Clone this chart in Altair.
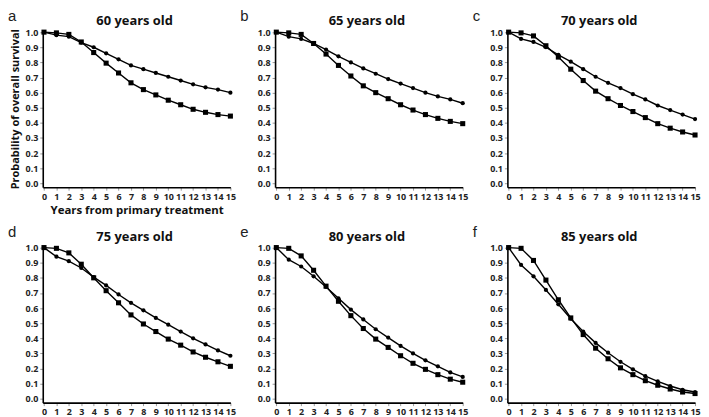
import altair as alt
import pandas as pd

years = list(range(16))
panel_ids = ["a", "b", "c", "d", "e", "f"]
panel_titles = ["60 years old", "65 years old", "70 years old",
                "75 years old", "80 years old", "85 years old"]

# circle-marker series
circle_a = [1.0, 0.98, 0.97, 0.93, 0.90, 0.86, 0.82, 0.78, 0.755, 0.73, 0.705, 0.68, 0.655, 0.635, 0.62, 0.60]
circle_b = [1.0, 0.97, 0.955, 0.925, 0.885, 0.84, 0.80, 0.76, 0.725, 0.69, 0.66, 0.63, 0.60, 0.575, 0.555, 0.53]
circle_c = [1.0, 0.955, 0.935, 0.90, 0.85, 0.805, 0.755, 0.705, 0.665, 0.63, 0.59, 0.555, 0.515, 0.485, 0.455, 0.425]
circle_d = [1.0, 0.94, 0.91, 0.865, 0.805, 0.75, 0.69, 0.635, 0.585, 0.535, 0.49, 0.445, 0.40, 0.36, 0.32, 0.285]
circle_e = [1.0, 0.92, 0.875, 0.81, 0.74, 0.665, 0.59, 0.525, 0.46, 0.405, 0.35, 0.30, 0.255, 0.215, 0.175, 0.145]
circle_f = [1.0, 0.885, 0.81, 0.72, 0.625, 0.53, 0.445, 0.37, 0.305, 0.245, 0.195, 0.15, 0.115, 0.085, 0.06, 0.045]

# square-marker series
square_a = [1.0, 0.995, 0.985, 0.935, 0.865, 0.795, 0.73, 0.665, 0.62, 0.585, 0.55, 0.52, 0.49, 0.47, 0.455, 0.445]
square_b = [1.0, 0.995, 0.985, 0.925, 0.855, 0.78, 0.71, 0.645, 0.60, 0.56, 0.52, 0.485, 0.455, 0.43, 0.41, 0.395]
square_c = [1.0, 0.995, 0.975, 0.91, 0.835, 0.755, 0.68, 0.61, 0.56, 0.515, 0.475, 0.435, 0.395, 0.365, 0.34, 0.32]
square_d = [1.0, 0.995, 0.965, 0.89, 0.80, 0.715, 0.635, 0.555, 0.495, 0.445, 0.395, 0.355, 0.31, 0.275, 0.245, 0.215]
square_e = [1.0, 0.995, 0.945, 0.85, 0.745, 0.645, 0.55, 0.465, 0.395, 0.34, 0.285, 0.235, 0.195, 0.16, 0.13, 0.11]
square_f = [1.0, 0.995, 0.915, 0.785, 0.655, 0.535, 0.425, 0.335, 0.265, 0.205, 0.16, 0.12, 0.09, 0.065, 0.045, 0.035]

circles = [circle_a, circle_b, circle_c, circle_d, circle_e, circle_f]
squares = [square_a, square_b, square_c, square_d, square_e, square_f]

y_ticks = [round(i * 0.1, 1) for i in range(11)]

W = 189
H = 158
BOLD_FONT = "Open Sans"


def make_panel(idx):
    rows = []
    for yr, c, s in zip(years, circles[idx], squares[idx]):
        rows.append({"year": yr, "value": c, "series": "circle"})
        rows.append({"year": yr, "value": s, "series": "square"})
    df = pd.DataFrame(rows)
    first = idx == 0

    x_axis = alt.Axis(values=years, format="d", labelFlush=False,
                      title="Years from primary treatment" if first else None,
                      titleFontSize=11.5, titleFontWeight="bold", titlePadding=4,
                      titleFont=BOLD_FONT)
    y_axis = alt.Axis(values=y_ticks, format=".1f",
                      title="Probability of overall survival" if first else None,
                      titleFontSize=11, titleFontWeight="bold", titlePadding=5,
                      titleFont=BOLD_FONT)
    x = alt.X("year:Q", scale=alt.Scale(domain=[-0.1, 15], nice=False, zero=False), axis=x_axis)
    y = alt.Y("value:Q", scale=alt.Scale(domain=[-0.025, 1.012], nice=False, zero=False), axis=y_axis)

    base = alt.Chart(df)
    line = base.mark_line(color="black", strokeWidth=1.4).encode(x=x, y=y, detail="series:N")
    pts_c = base.transform_filter(alt.datum.series == "circle").mark_point(
        shape="circle", filled=True, color="black", size=18, opacity=1).encode(x=x, y=y)
    pts_s = base.transform_filter(alt.datum.series == "square").mark_point(
        shape="square", filled=True, color="black", size=26, opacity=1).encode(x=x, y=y)
    lab = alt.Chart(pd.DataFrame({"t": [panel_ids[idx]]})).mark_text(
        align="left", baseline="alphabetic", fontSize=15, font="Liberation Sans",
        color="#222").encode(text="t:N", x=alt.value(-35), y=alt.value(-9))
    ttl = alt.Chart(pd.DataFrame({"t": [panel_titles[idx]]})).mark_text(
        align="center", baseline="alphabetic", fontSize=13, font=BOLD_FONT,
        fontWeight="bold", color="#111").encode(
        text="t:N", x=alt.value(W / 2 - 2), y=alt.value(-5))
    return alt.layer(line, pts_c, pts_s, lab, ttl).properties(width=W, height=H)


row1 = alt.hconcat(*[make_panel(i) for i in range(3)], spacing=4)
row2 = alt.hconcat(*[make_panel(i) for i in range(3, 6)], spacing=4)
chart = alt.vconcat(row1, row2, spacing=8).properties(padding=0).configure_view(
    stroke=None).configure_axis(
    grid=False, domainColor="black", domainWidth=1.6, tickColor="#999", tickSize=3,
    labelFont=BOLD_FONT, labelFontWeight="bold", labelFontSize=9, labelColor="#222",
    labelPadding=2, titleColor="#111")

chart.save("out.html", embed_options={"renderer": "svg", "actions": False})
